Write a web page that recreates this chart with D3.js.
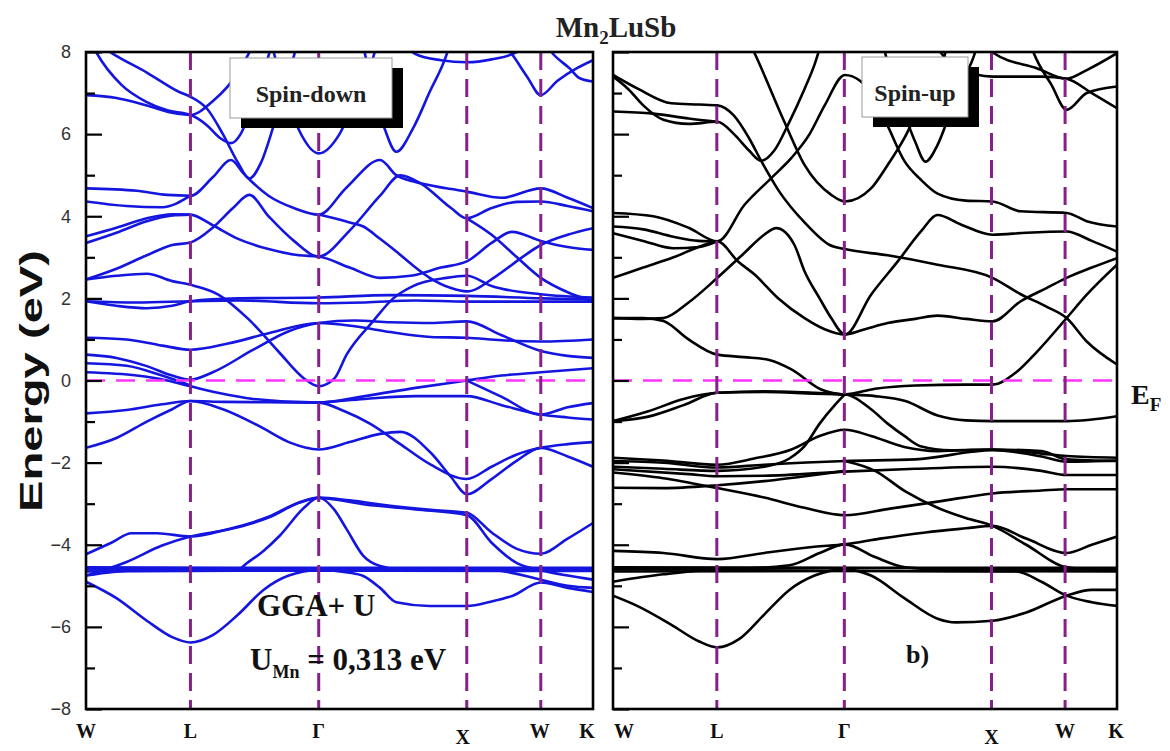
<!DOCTYPE html>
<html><head><meta charset="utf-8">
<script src="https://cdn.jsdelivr.net/npm/d3@7"></script>
<style>body{margin:0;background:#fff}svg{display:block}</style>
</head><body>
<script>
// ---------- DATA ----------
const kTicks = [0, 0.206, 0.459, 0.751, 0.897, 1];
const kLabels = ["W", "L", "\u0393", "X", "W", "K"];
const yTicks = [-8, -6, -4, -2, 0, 2, 4, 6, 8];
const yMinorTicks = [-7, -5, -3, -1, 1, 3, 5, 7];
const fermiLevel = 0;

// spin-down bands: each band is a list of [k, E(eV)]
const spinDownBands = [
 [[0,8.4],[0.054,7.95],[0.12,7.5],[0.185,7.02],[0.206,6.91],[0.24,6.6],[0.27,6.0],[0.3,5.3],[0.322,4.92],[0.345,5.3],[0.37,6.2],[0.39,7.0],[0.41,7.9],[0.42,8.4]],
 [[0,4.68],[0.1,4.62],[0.16,4.52],[0.206,4.5],[0.25,4.95],[0.286,5.37],[0.31,5.05],[0.322,4.9],[0.36,4.5],[0.41,4.2],[0.459,4.04],[0.514,4.7],[0.58,5.37],[0.612,5.0],[0.645,4.85],[0.711,4.68],[0.751,4.6],[0.82,4.45],[0.897,4.68],[0.95,4.45],[1,4.2]],
 [[0,8.5],[0.02,8.0],[0.07,7.2],[0.12,6.78],[0.16,6.58],[0.206,6.47],[0.24,6.2],[0.265,5.9],[0.286,5.78],[0.305,6.0],[0.33,6.8],[0.35,7.5],[0.37,8.3],[0.38,8.6]],
 [[0,6.95],[0.06,6.88],[0.12,6.7],[0.17,6.52],[0.206,6.47],[0.25,6.8],[0.3,7.5],[0.33,8.2],[0.34,8.5]],
 [[0.36,8.5],[0.39,7.1],[0.42,6.1],[0.459,5.53],[0.5,6.0],[0.53,6.8],[0.56,7.6],[0.58,8.5]],
 [[0.54,8.5],[0.565,7.2],[0.59,6.1],[0.612,5.57],[0.645,6.14],[0.678,7.03],[0.711,7.93],[0.725,8.5]],
 [[0.6,8.5],[0.65,7.95],[0.7,7.8],[0.751,7.75],[0.8,7.82],[0.85,8.0],[0.88,8.5]],
 [[0.8,8.5],[0.84,7.95],[0.87,7.4],[0.897,6.95],[0.93,7.3],[0.97,7.62],[1,7.8]],
 [[0.89,8.5],[0.92,7.97],[0.954,7.6],[0.974,7.36],[1,7.28]],
 [[0,4.36],[0.08,4.25],[0.15,4.22],[0.206,4.5]],
 [[0,3.51],[0.06,3.72],[0.12,3.95],[0.17,4.05],[0.206,4.04],[0.25,3.78],[0.3,3.45],[0.36,3.2],[0.42,3.05],[0.459,3.02],[0.52,2.75],[0.58,2.5],[0.64,2.55],[0.7,2.75],[0.751,2.9],[0.8,3.35],[0.84,3.62],[0.897,3.4],[0.95,3.25],[1,3.18]],
 [[0,3.35],[0.06,3.6],[0.12,3.88],[0.17,4.02],[0.206,4.04]],
 [[0,2.46],[0.06,2.72],[0.12,3.05],[0.17,3.3],[0.206,3.36],[0.25,3.72],[0.29,4.2],[0.322,4.52],[0.36,4.0],[0.41,3.4],[0.459,3.02],[0.52,3.65],[0.58,4.5],[0.62,5.0],[0.66,4.8],[0.72,4.2],[0.751,3.95],[0.8,4.2],[0.85,4.35],[0.897,4.36],[0.95,4.25],[1,4.12]],
 [[0.459,4.04],[0.52,3.85],[0.547,3.75],[0.58,3.45],[0.612,3.14],[0.645,2.8],[0.678,2.5],[0.72,2.25],[0.751,2.17],[0.81,2.55],[0.86,3.0],[0.897,3.3],[0.95,3.55],[1,3.71]],
 [[0.751,3.95],[0.8,3.55],[0.85,3.0],[0.897,2.5],[0.95,2.15],[1,1.93]],
 [[0,1.93],[0.1,1.9],[0.206,1.93],[0.3,1.95],[0.459,1.88],[0.55,1.9],[0.65,1.95],[0.751,1.92],[0.85,1.92],[1,1.92]],
 [[0,1.93],[0.06,1.82],[0.12,1.76],[0.17,1.82],[0.206,1.93],[0.3,2.0],[0.459,2.02],[0.6,2.08],[0.751,2.06],[0.9,2.0],[1,1.97]],
 [[0,2.46],[0.06,2.55],[0.12,2.6],[0.17,2.42],[0.206,2.33],[0.26,2.1],[0.32,1.5],[0.38,0.7],[0.43,0.05],[0.459,-0.14],[0.49,0.05],[0.514,0.63],[0.566,1.44],[0.606,2.0],[0.645,2.3],[0.711,2.5],[0.751,2.55],[0.8,2.3],[0.897,2.1],[1,2.02]],
 [[0,1.04],[0.08,1.0],[0.15,0.85],[0.206,0.75],[0.28,0.9],[0.36,1.15],[0.459,1.4],[0.53,1.32],[0.6,1.18],[0.68,1.06],[0.751,1.04],[0.82,0.98],[0.897,0.95],[1,1.0]],
 [[0,0.63],[0.06,0.55],[0.12,0.35],[0.17,0.12],[0.206,0.02],[0.25,0.2],[0.33,0.75],[0.4,1.2],[0.459,1.4],[0.53,1.46],[0.6,1.42],[0.68,1.4],[0.751,1.44],[0.82,1.1],[0.897,0.72],[0.95,0.6],[1,0.55]],
 [[0,0.2],[0.1,0.12],[0.16,0],[0.206,-0.14],[0.26,-0.3],[0.33,-0.45],[0.459,-0.54],[0.55,-0.38],[0.65,-0.18],[0.751,0],[0.82,0.12],[0.897,0.2],[1,0.3]],
 [[0,0.42],[0.08,0.36],[0.15,0.12],[0.206,-0.12]],
 [[0,-0.8],[0.08,-0.72],[0.15,-0.58],[0.206,-0.5],[0.27,-0.7],[0.34,-1.1],[0.4,-1.5],[0.459,-1.68],[0.52,-1.5],[0.58,-1.3],[0.62,-1.25],[0.68,-1.76],[0.72,-2.35],[0.751,-2.77],[0.8,-2.4],[0.85,-1.95],[0.897,-1.64],[0.95,-1.85],[1,-2.1]],
 [[0,-1.64],[0.06,-1.4],[0.12,-1.0],[0.17,-0.7],[0.206,-0.5],[0.27,-0.52],[0.36,-0.53],[0.459,-0.54],[0.51,-0.75],[0.56,-1.05],[0.62,-1.55],[0.68,-2.05],[0.751,-2.4],[0.8,-2.1],[0.85,-1.8],[0.897,-1.64],[0.95,-1.55],[1,-1.5]],
 [[0.459,-0.54],[0.55,-0.45],[0.65,-0.38],[0.751,-0.38],[0.82,-0.6],[0.897,-0.83],[0.95,-0.9],[1,-0.95]],
 [[0.751,0],[0.82,-0.4],[0.897,-0.83],[0.95,-0.65],[1,-0.55]],
 [[0,-4.23],[0.05,-3.95],[0.09,-3.72],[0.14,-3.72],[0.206,-3.8],[0.28,-3.62],[0.36,-3.32],[0.42,-2.97],[0.459,-2.85],[0.52,-2.92],[0.6,-3.05],[0.68,-3.15],[0.751,-3.22],[0.8,-3.7],[0.85,-4.1],[0.897,-4.22],[0.95,-3.85],[1,-3.47]],
 [[0,-4.6],[0.1,-4.6],[0.206,-4.6],[0.3,-4.6],[0.317,-4.45],[0.35,-4.15],[0.382,-3.78],[0.43,-3.1],[0.459,-2.85],[0.49,-3.15],[0.514,-3.62],[0.547,-4.27],[0.58,-4.52],[0.62,-4.6],[0.751,-4.6],[0.897,-4.6],[1,-4.6]],
 [[0,-4.75],[0.08,-4.42],[0.15,-4.02],[0.206,-3.8],[0.28,-3.63],[0.36,-3.34],[0.42,-2.98],[0.459,-2.86],[0.55,-3.02],[0.65,-3.14],[0.751,-3.28],[0.8,-3.95],[0.85,-4.45],[0.897,-4.62],[0.95,-4.75],[1,-4.85]],
 [[0,-4.55],[0.3,-4.56],[0.6,-4.56],[1,-4.56]],
 [[0,-4.65],[0.3,-4.63],[0.6,-4.63],[1,-4.64]],
 [[0,-4.9],[0.06,-5.3],[0.12,-5.85],[0.17,-6.25],[0.206,-6.38],[0.25,-6.2],[0.3,-5.7],[0.35,-5.1],[0.4,-4.75],[0.459,-4.62],[0.52,-4.68],[0.547,-4.76],[0.58,-5.05],[0.612,-5.4],[0.678,-5.49],[0.751,-5.49],[0.8,-5.38],[0.842,-5.24],[0.897,-4.92],[0.95,-5.05],[1,-5.15]],
 [[0,-4.75],[0.1,-4.62],[0.3,-4.6],[0.8,-4.62],[0.897,-4.85],[0.95,-5.0],[1,-5.05]]
];

// spin-up bands
const spinUpBands = [
 [[0,7.44],[0.05,7.1],[0.116,6.75],[0.17,6.72],[0.207,6.7],[0.24,6.45],[0.27,5.9],[0.294,5.35],[0.33,4.6],[0.38,3.85],[0.43,3.3],[0.46,3.2],[0.545,3.05],[0.644,2.82],[0.753,2.5],[0.809,2.1],[0.86,1.8],[0.9,1.52],[0.94,0.95],[1,0.39]],
 [[0,7.4],[0.03,7.1],[0.06,6.7],[0.1,6.35],[0.15,6.25],[0.207,6.3],[0.24,6.0],[0.27,5.6],[0.294,5.35],[0.32,5.6],[0.35,6.3],[0.38,7.1],[0.4,7.7],[0.42,8.5]],
 [[0,6.55],[0.08,6.5],[0.15,6.38],[0.207,6.3]],
 [[0.26,8.5],[0.281,7.97],[0.34,6.3],[0.38,5.25],[0.433,4.52],[0.46,4.36],[0.512,4.68],[0.545,5.25],[0.578,5.9],[0.6,6.45],[0.63,7.2],[0.66,8.0],[0.67,8.5]],
 [[0,4.08],[0.08,4.0],[0.15,3.72],[0.207,3.39],[0.261,4.28],[0.314,4.93],[0.354,5.42],[0.39,6.0],[0.42,6.7],[0.46,7.44],[0.49,7.3],[0.512,7.0],[0.545,6.2],[0.578,5.35],[0.61,4.9],[0.644,4.55],[0.7,4.38],[0.753,4.36],[0.809,4.12],[0.9,4.08],[0.94,3.88],[1,3.75]],
 [[0.53,8.5],[0.55,7.5],[0.578,6.5],[0.6,5.8],[0.62,5.33],[0.644,5.74],[0.67,6.55],[0.697,7.36],[0.716,7.9],[0.73,8.5]],
 [[0.62,8.5],[0.66,7.85],[0.72,7.45],[0.753,7.4],[0.85,7.4],[0.9,7.35],[0.95,7.0],[1,6.63]],
 [[0.735,8.5],[0.756,7.97],[0.842,7.6],[0.9,7.35],[0.94,7.56],[1,7.97]],
 [[0.82,8.5],[0.835,7.97],[0.87,7.2],[0.9,6.59],[0.94,7.0],[1,7.16]],
 [[0,1.52],[0.06,1.5],[0.1,1.52],[0.15,1.9],[0.207,2.5],[0.26,3.1],[0.3,3.55],[0.324,3.71],[0.36,3.3],[0.38,2.66],[0.41,2.0],[0.433,1.52],[0.46,1.12],[0.5,1.25],[0.545,1.4],[0.6,1.5],[0.644,1.58],[0.7,1.5],[0.753,1.44],[0.809,1.93],[0.86,2.25],[0.9,2.5],[0.95,2.75],[1,2.98]],
 [[0,1.52],[0.06,1.52],[0.1,1.45],[0.15,1.0],[0.207,0.63],[0.26,0.57],[0.31,0.5],[0.354,0.27],[0.413,-0.22],[0.46,-0.34],[0.52,-0.2],[0.6,-0.12],[0.7,-0.1],[0.753,-0.1],[0.8,0.2],[0.842,0.71],[0.9,1.52],[0.94,2.09],[1,2.82]],
 [[0,2.5],[0.06,2.75],[0.12,3.0],[0.17,3.25],[0.207,3.39],[0.248,2.9],[0.281,2.58],[0.327,2.01],[0.38,1.52],[0.42,1.25],[0.46,1.12],[0.512,2.09],[0.565,2.9],[0.611,3.63],[0.644,4.03],[0.69,3.8],[0.753,3.55],[0.82,3.6],[0.9,3.63],[0.95,3.4],[1,3.14]],
 [[0,3.75],[0.06,3.68],[0.12,3.5],[0.17,3.4],[0.207,3.39]],
 [[0,3.59],[0.06,3.4],[0.12,3.22],[0.17,3.25],[0.207,3.39]],
 [[0,-0.99],[0.07,-0.75],[0.14,-0.45],[0.207,-0.3],[0.3,-0.26],[0.4,-0.3],[0.46,-0.34],[0.52,-0.38],[0.58,-0.5],[0.644,-0.85],[0.7,-0.97],[0.753,-0.99],[0.85,-0.99],[0.9,-0.99],[1,-0.87]],
 [[0,-0.99],[0.07,-0.88],[0.14,-0.6],[0.207,-0.3],[0.3,-0.28],[0.4,-0.32],[0.46,-0.34],[0.512,-0.7],[0.545,-1.05],[0.578,-1.35],[0.61,-1.6],[0.67,-1.7],[0.753,-1.68],[0.85,-1.78],[0.9,-1.84],[1,-1.88]],
 [[0,-2.1],[0.1,-2.15],[0.207,-2.2],[0.3,-2.1],[0.35,-1.9],[0.38,-1.6],[0.41,-1.05],[0.44,-0.6],[0.46,-0.34]],
 [[0,-1.88],[0.1,-1.95],[0.207,-2.05],[0.28,-1.9],[0.354,-1.68],[0.41,-1.35],[0.46,-1.2],[0.512,-1.35],[0.578,-1.62],[0.644,-1.72],[0.753,-1.68],[0.85,-1.72],[0.9,-1.92],[1,-1.96]],
 [[0,-1.96],[0.1,-2.0],[0.207,-2.12],[0.3,-2.05],[0.46,-1.96],[0.6,-1.92],[0.753,-1.7],[0.85,-1.85],[0.9,-1.98],[1,-1.95]],
 [[0,-2.16],[0.15,-2.28],[0.207,-2.33],[0.3,-2.32],[0.46,-2.22],[0.6,-2.15],[0.753,-2.1],[0.85,-2.2],[0.9,-2.3],[1,-2.3]],
 [[0,-2.24],[0.1,-2.38],[0.207,-2.62],[0.3,-2.85],[0.38,-3.1],[0.46,-3.28],[0.55,-3.12],[0.644,-2.95],[0.753,-2.75],[0.85,-2.68],[0.9,-2.65],[1,-2.65]],
 [[0,-2.61],[0.1,-2.62],[0.207,-2.55],[0.3,-2.45],[0.4,-2.3],[0.46,-2.2]],
 [[0.46,-1.96],[0.52,-2.2],[0.58,-2.7],[0.644,-3.1],[0.7,-3.35],[0.753,-3.54],[0.82,-4.0],[0.9,-4.55],[0.95,-4.6],[1,-4.6]],
 [[0,-4.15],[0.1,-4.2],[0.207,-4.35],[0.3,-4.2],[0.4,-4.05],[0.46,-3.99],[0.53,-3.85],[0.62,-3.7],[0.7,-3.6],[0.753,-3.54],[0.82,-3.85],[0.9,-4.2],[0.95,-4.0],[1,-3.8]],
 [[0,-4.6],[0.207,-4.6],[0.35,-4.5],[0.41,-4.2],[0.46,-3.99],[0.52,-4.3],[0.58,-4.55],[0.65,-4.6],[1,-4.6]],
 [[0,-4.55],[0.5,-4.56],[1,-4.56]],
 [[0,-4.65],[0.5,-4.64],[1,-4.65]],
 [[0,-5.24],[0.05,-5.5],[0.116,-5.95],[0.17,-6.35],[0.207,-6.5],[0.25,-6.3],[0.3,-5.7],[0.35,-5.1],[0.4,-4.75],[0.46,-4.6],[0.512,-4.75],[0.578,-5.3],[0.644,-5.8],[0.68,-5.89],[0.753,-5.85],[0.82,-5.65],[0.9,-5.24],[0.95,-5.1],[1,-5.1]],
 [[0,-4.9],[0.1,-4.72],[0.2,-4.62],[0.8,-4.65],[0.85,-4.9],[0.9,-5.24],[0.95,-5.4],[1,-5.49]]
];

// ---------- LAYOUT ----------
const W = 1170, H = 751;
const plotTop = 52, plotBottom = 709;
const panels = [
  {id: "down", x0: 86, x1: 593, bands: spinDownBands, color: "#1515e0", legend: "Spin-down",
   box: [230, 58, 162, 60], labelDx: [0, 0, 0, -4, -1, -6], showTickLabels: true},
  {id: "up", x0: 613, x1: 1117, bands: spinUpBands, color: "#000000", legend: "Spin-up",
   box: [862, 57, 106, 60], labelDx: [11, 0, 0, 0, 0, -1], showTickLabels: false}
];
const serif = "'Liberation Serif','Times New Roman',serif";
const sans = "'Liberation Sans',Arial,sans-serif";

const svg = d3.select("body").append("svg").attr("width", W).attr("height", H);
svg.append("rect").attr("width", W).attr("height", H).attr("fill", "#fff");

const yScale = d3.scaleLinear().domain([-8, 8]).range([plotBottom, plotTop]);

panels.forEach(p => {
  const x = d3.scaleLinear().domain([0, 1]).range([p.x0, p.x1]);
  const g = svg.append("g");
  g.append("clipPath").attr("id", "clip-" + p.id)
    .append("rect").attr("x", p.x0).attr("y", plotTop).attr("width", p.x1 - p.x0).attr("height", plotBottom - plotTop);

  const line = d3.line().x(d => x(d[0])).y(d => yScale(d[1])).curve(d3.curveMonotoneX);
  g.append("g").attr("clip-path", `url(#clip-${p.id})`)
    .selectAll("path").data(p.bands).join("path")
    .attr("d", line).attr("fill", "none").attr("stroke", p.color)
    .attr("stroke-width", 2.6).attr("stroke-linejoin", "round");

  // Fermi level
  g.append("line").attr("x1", p.x0).attr("x2", p.x1).attr("y1", yScale(fermiLevel)).attr("y2", yScale(fermiLevel))
    .attr("stroke", "#ff33ff").attr("stroke-width", 2.6).attr("stroke-dasharray", "19,11");

  // high-symmetry vertical dashed lines
  g.selectAll("line.ks").data(kTicks.slice(1, -1)).join("line").attr("class", "ks")
    .attr("x1", d => x(d)).attr("x2", d => x(d)).attr("y1", plotTop).attr("y2", plotBottom)
    .attr("stroke", "#86208a").attr("stroke-width", 3).attr("stroke-dasharray", "18,9");

  // y axis ticks (inside)
  const axis = d3.axisRight(yScale).tickValues(yTicks).tickSize(16).tickFormat("");
  const ag = g.append("g").attr("transform", `translate(${p.x0},0)`).call(axis);
  ag.select(".domain").remove();
  ag.selectAll("line").attr("stroke", "#000").attr("stroke-width", 2.2);
  const minor = d3.axisRight(yScale).tickValues(yMinorTicks).tickSize(9).tickFormat("");
  const mg = g.append("g").attr("transform", `translate(${p.x0},0)`).call(minor);
  mg.select(".domain").remove();
  mg.selectAll("line").attr("stroke", "#000").attr("stroke-width", 2.2);

  if (p.showTickLabels) {
    const lab = d3.axisLeft(yScale).tickValues(yTicks).tickSize(0).tickPadding(15).tickFormat(d3.format("d"));
    const lg = g.append("g").attr("transform", `translate(${p.x0},0)`).call(lab);
    lg.select(".domain").remove();
    lg.selectAll("text").attr("font-family", sans).attr("font-size", 18).attr("fill", "#333");
  }

  // frame
  g.append("rect").attr("x", p.x0).attr("y", plotTop).attr("width", p.x1 - p.x0).attr("height", plotBottom - plotTop)
    .attr("fill", "none").attr("stroke", "#000").attr("stroke-width", 2.6);

  // k labels
  g.selectAll("text.kl").data(kTicks).join("text").attr("class", "kl")
    .attr("x", (d, i) => x(d) + p.labelDx[i])
    .attr("y", (d, i) => kLabels[i] === "X" ? 744 : 738)
    .attr("text-anchor", "middle").attr("font-family", serif).attr("font-weight", "bold")
    .attr("font-size", 20).attr("fill", "#111").text((d, i) => kLabels[i]);

  // legend box
  const [bx, by, bw, bh] = p.box;
  g.append("rect").attr("x", bx + 11).attr("y", by + 10).attr("width", bw).attr("height", bh).attr("fill", "#000");
  g.append("rect").attr("x", bx).attr("y", by).attr("width", bw).attr("height", bh)
    .attr("fill", "#fff").attr("stroke", "#999").attr("stroke-width", 1);
  g.append("text").attr("x", bx + bw / 2).attr("y", by + 44).attr("text-anchor", "middle")
    .attr("font-family", serif).attr("font-weight", "bold").attr("font-size", 24).attr("fill", "#222")
    .text(p.legend);
});

// title
const t = svg.append("text").attr("x", 616).attr("y", 37).attr("text-anchor", "middle")
  .attr("font-family", serif).attr("font-weight", "bold").attr("font-size", 29).attr("fill", "#222");
t.append("tspan").text("Mn");
t.append("tspan").attr("font-size", 19).attr("dy", 7).text("2");
t.append("tspan").attr("dy", -7).text("LuSb");

// y label
svg.append("text").attr("transform", "translate(42,381) rotate(-90)").attr("text-anchor", "middle")
  .attr("font-family", sans).attr("font-weight", "bold").attr("font-size", 32).attr("fill", "#111")
  .attr("textLength", 262).attr("lengthAdjust", "spacingAndGlyphs").text("Energy (eV)");

// E_F
const ef = svg.append("text").attr("x", 1131).attr("y", 404).attr("font-family", serif)
  .attr("font-weight", "bold").attr("font-size", 28).attr("fill", "#111");
ef.append("tspan").text("E");
ef.append("tspan").attr("font-size", 19).attr("dy", 7).text("F");

// annotations
svg.append("text").attr("x", 257).attr("y", 616).attr("font-family", serif).attr("font-weight", "bold")
  .attr("font-size", 31).attr("fill", "#111").text("GGA+ U");
const um = svg.append("text").attr("x", 250).attr("y", 670).attr("font-family", serif).attr("font-weight", "bold")
  .attr("font-size", 31).attr("fill", "#111");
um.append("tspan").text("U");
um.append("tspan").attr("font-size", 18).attr("dy", 8).text("Mn");
um.append("tspan").attr("dy", -8).text(" = 0,313 eV");
svg.append("text").attr("x", 906).attr("y", 663).attr("font-family", serif).attr("font-weight", "bold")
  .attr("font-size", 26).attr("fill", "#111").text("b)");
</script>
</body></html>
